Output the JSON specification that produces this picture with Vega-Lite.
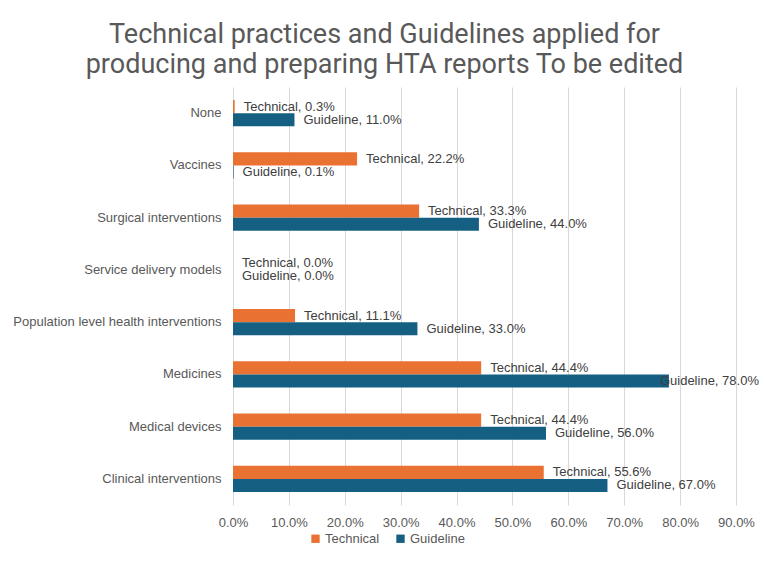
{
  "$schema": "https://vega.github.io/schema/vega-lite/v6.json",
  "width": 503,
  "height": 418,
  "padding": {"left": 12, "top": 21, "right": 10, "bottom": 5},
  "background": "white",
  "title": {
    "text": ["Technical practices and Guidelines applied for", "producing and preparing  HTA reports  To be edited"],
    "font": "Roboto, sans-serif",
    "fontSize": 27,
    "fontWeight": "normal",
    "color": "#595959",
    "anchor": "middle",
    "frame": "group",
    "dx": -100,
    "lineHeight": 30,
    "offset": 8
  },
  "data": {
    "values": [
      {"category": "None", "series": "Technical", "value": 0.003},
      {"category": "None", "series": "Guideline", "value": 0.11},
      {"category": "Vaccines", "series": "Technical", "value": 0.222},
      {"category": "Vaccines", "series": "Guideline", "value": 0.001},
      {"category": "Surgical interventions", "series": "Technical", "value": 0.333},
      {"category": "Surgical interventions", "series": "Guideline", "value": 0.44},
      {"category": "Service delivery models", "series": "Technical", "value": 0.0},
      {"category": "Service delivery models", "series": "Guideline", "value": 0.0},
      {"category": "Population level health interventions", "series": "Technical", "value": 0.111},
      {"category": "Population level health interventions", "series": "Guideline", "value": 0.33},
      {"category": "Medicines", "series": "Technical", "value": 0.444},
      {"category": "Medicines", "series": "Guideline", "value": 0.78},
      {"category": "Medical devices", "series": "Technical", "value": 0.444},
      {"category": "Medical devices", "series": "Guideline", "value": 0.56},
      {"category": "Clinical interventions", "series": "Technical", "value": 0.556},
      {"category": "Clinical interventions", "series": "Guideline", "value": 0.67}
    ]
  },
  "transform": [
    {"calculate": "datum.series + ', ' + format(datum.value, '.1%')", "as": "label"}
  ],
  "encoding": {
    "y": {
      "field": "category",
      "type": "nominal",
      "sort": null,
      "scale": {"paddingInner": 0.5, "paddingOuter": 0.25},
      "axis": {
        "title": null,
        "domain": false,
        "ticks": false,
        "labelPadding": 12,
        "labelFontSize": 13,
        "labelColor": "#595959",
        "labelFont": "Liberation Sans, sans-serif",
        "labelLimit": 300
      }
    },
    "yOffset": {
      "field": "series",
      "type": "nominal",
      "scale": {"domain": ["Technical", "Guideline"], "paddingInner": 0, "paddingOuter": 0}
    },
    "x": {
      "field": "value",
      "type": "quantitative",
      "scale": {"domain": [0, 0.9], "nice": false},
      "axis": {
        "title": null,
        "format": ".1%",
        "values": [0, 0.1, 0.2, 0.3, 0.4, 0.5, 0.6, 0.7, 0.8, 0.9],
        "domain": false,
        "ticks": false,
        "grid": true,
        "gridColor": "#D9D9D9",
        "gridWidth": 1,
        "labelFlush": false,
        "labelPadding": 11,
        "labelFontSize": 13,
        "labelColor": "#595959",
        "labelFont": "Liberation Sans, sans-serif"
      }
    }
  },
  "layer": [
    {
      "mark": {"type": "bar"},
      "encoding": {
        "color": {
          "field": "series",
          "type": "nominal",
          "scale": {"domain": ["Technical", "Guideline"], "range": ["#E97132", "#156082"]},
          "legend": {
            "title": null,
            "orient": "none",
            "legendX": 76,
            "legendY": 445,
            "direction": "horizontal",
            "symbolType": "square",
            "symbolSize": 70,
            "symbolStrokeWidth": 0,
            "labelFontSize": 13,
            "labelColor": "#595959",
            "labelFont": "Liberation Sans, sans-serif",
            "columnPadding": 14,
            "labelOffset": 3
          }
        }
      }
    },
    {
      "transform": [{"filter": "datum.value < 0.7"}],
      "mark": {"type": "text", "align": "left", "baseline": "middle", "dx": 9, "fontSize": 13, "color": "#404040", "font": "Liberation Sans, sans-serif"},
      "encoding": {"text": {"field": "label"}}
    },
    {
      "transform": [{"filter": "datum.value >= 0.7"}],
      "mark": {"type": "text", "align": "left", "baseline": "middle", "dx": -9, "fontSize": 13, "color": "#404040", "font": "Liberation Sans, sans-serif"},
      "encoding": {"text": {"field": "label"}}
    }
  ],
  "config": {
    "view": {"stroke": null}
  }
}
